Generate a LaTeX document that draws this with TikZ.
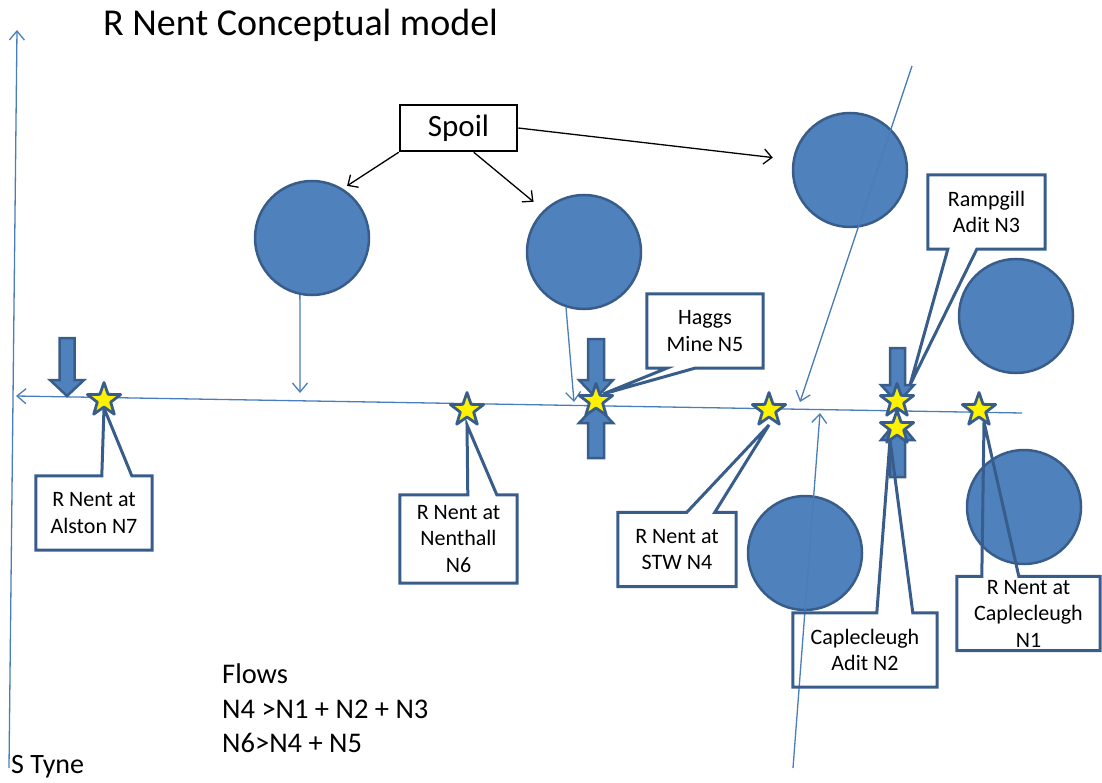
\documentclass[tikz,border=0pt]{standalone}
\usepackage{fontspec}
\setmainfont{Carlito}
\usetikzlibrary{shapes.geometric,arrows.meta}

\definecolor{pondfill}{HTML}{4F81BD}
\definecolor{pondline}{HTML}{385D8A}
\definecolor{flowline}{HTML}{4A7EBB}

\tikzset{
    pond/.style={circle, fill=pondfill, draw=pondline, line width=2.5pt, minimum size=114pt, inner sep=0pt},
    site/.style={star, star points=5, star point ratio=2.5, minimum size=35pt, inner sep=0pt,
        fill=yellow, draw=pondline, line width=2.8pt, line join=round},
    pipe/.style={fill=pondfill, draw=pondline, line width=2.5pt},
    flow/.style={draw=flowline, line width=1.3pt, -{Straight Barb[length=9pt,width=15pt]}},
    spoilarrow/.style={black, line width=1.3pt, -{Straight Barb[length=8pt,width=15pt]}},
    notebox/.style={rectangle, minimum height=74pt, inner sep=0pt, align=center,
        font=\fontsize{22}{26.5}\selectfont},
    callbox/.style={draw=pondline, line width=3pt, line join=miter},
    plain/.style={anchor=base west, inner sep=0pt}
}

\begin{document}
\begin{tikzpicture}[x=1pt, y=-1pt]
    \useasboundingbox (0,0) rectangle (1102,783);

    % sampling points
    \coordinate (n7) at (104,400);
    \coordinate (n6) at (467,410);
    \coordinate (n5) at (596,401);
    \coordinate (n4) at (769,410);
    \coordinate (n3) at (897,401);
    \coordinate (n2) at (897,428);
    \coordinate (n1) at (979,410);

    % S Tyne and R Nent
    \coordinate (tyneS) at (9,768);
    \coordinate (tyneN) at (17,30);
    \draw[flow] (tyneS) -- (tyneN);
    \coordinate (nentE) at (1022,413);
    \coordinate (nentW) at (16,396);
    \draw[flow] (nentE) -- (nentW);

    % spoil heaps
    \node[pond] (p1) at (312,238) {};
    \node[pond] (p2) at (584,252) {};
    \node[pond] (p3) at (850,170) {};
    \node[pond] (p4) at (1016,316) {};
    \node[pond] (p5) at (805,553) {};
    \node[pond] (p6) at (1024,507) {};

    % runoff into the river
    \coordinate (r1) at (300,393);
    \coordinate (r2) at (574,402);
    \coordinate (r3top) at (912,66);
    \coordinate (r3) at (800,402);
    \coordinate (r4bot) at (793,768);
    \coordinate (r4) at (820,413);
    \draw[flow] (p1.-102) -- (r1);
    \draw[flow] (p2.-108) -- (r2);
    \draw[flow] (r3top) -- (r3);
    \draw[flow] (r4bot) -- (r4);

    \node[draw, line width=2.5pt, minimum width=117pt, minimum height=46pt, inner sep=0pt,
        font=\fontsize{31}{37}\selectfont] (spoil) at (458.5,128) {Spoil};
    \draw[spoilarrow, shorten >=5pt] (spoil.south west) -- (p1.58);
    \draw[spoilarrow, shorten >=13pt] ([xshift=75pt]spoil.south west) -- (p2.134);
    \draw[spoilarrow, shorten >=20pt] (spoil.east) -- (p3.170);

    % adit inflows
    \draw[pipe] (59.5,338) -- (74.5,338) -- (74.5,380) -- (84,380) -- (67,396) -- (50,380) -- (59.5,380) -- cycle;
    \draw[pipe] (588,339) -- (604,339) -- (604,380) -- (613,380) -- (596,398) -- (579,380) -- (588,380) -- cycle;
    \draw[pipe] (588,458) -- (604,458) -- (604,423) -- (613,423) -- (596,405) -- (579,423) -- (588,423) -- cycle;
    \draw[pipe] (890,348) -- (905,348) -- (905,385) -- (914,385) -- (897.5,403) -- (881,385) -- (890,385) -- cycle;
    \draw[pipe] (890,477) -- (905,477) -- (905,440) -- (914,440) -- (897.5,420) -- (881,440) -- (890,440) -- cycle;

    % labels
    \node[notebox, minimum width=116pt] (l7) at (94,513) {R Nent at\\Alston N7};
    \node[notebox, minimum width=117pt, minimum height=88pt] (l6) at (458.5,539) {R Nent at\\Nenthall\\N6};
    \node[notebox, minimum width=116pt] (l5) at (705,331) {Haggs\\Mine N5};
    \node[notebox, minimum width=118pt] (l4) at (677,549.5) {R Nent at\\STW N4};
    \node[notebox, minimum width=117pt] (l3) at (986.5,212) {Rampgill\\Adit N3};
    \node[notebox, minimum width=144pt] (l2) at (865,650) {Caplecleugh\\Adit N2};
    \node[notebox, minimum width=143pt] (l1) at (1028.5,613.5) {R Nent at\\Caplecleugh\\N1};

    \draw[callbox] (l7.south west) -- (l7.north west) -- ([xshift=66pt]l7.north west)
        -- ([yshift=-8pt]n7) -- ([xshift=96pt]l7.north west) -- (l7.north east) -- (l7.south east) -- cycle;
    \draw[callbox] (l6.south west) -- (l6.north west) -- ([xshift=68pt]l6.north west)
        -- ([yshift=-15pt]n6) -- ([xshift=97pt]l6.north west) -- (l6.north east) -- (l6.south east) -- cycle;
    \draw[callbox] (l5.north west) -- (l5.north east) -- (l5.south east) -- ([xshift=48pt]l5.south west)
        -- ([xshift=7pt,yshift=7pt]n5) -- ([xshift=20pt]l5.south west) -- (l5.south west) -- cycle;
    \draw[callbox] (l4.south west) -- (l4.north west) -- ([xshift=69pt]l4.north west)
        -- ([yshift=-15pt]n4) -- ([xshift=97pt]l4.north west) -- (l4.north east) -- (l4.south east) -- cycle;
    \draw[callbox] (l3.north west) -- (l3.north east) -- (l3.south east) -- ([xshift=49pt]l3.south west)
        -- ([xshift=13pt,yshift=16pt]n3) -- ([xshift=20pt]l3.south west) -- (l3.south west) -- cycle;
    \draw[callbox] (l2.south west) -- (l2.north west) -- ([xshift=84pt]l2.north west)
        -- ([xshift=-7pt,yshift=-12pt]n2) -- ([xshift=120pt]l2.north west) -- (l2.north east) -- (l2.south east) -- cycle;
    \draw[callbox] (l1.south west) -- (l1.north west) -- ([xshift=25pt]l1.north west)
        -- ([xshift=5pt,yshift=-12pt]n1) -- ([xshift=62pt]l1.north west) -- (l1.north east) -- (l1.south east) -- cycle;

    % stars on top
    \node[site] (s7) at (n7) {};
    \node[site] (s6) at (n6) {};
    \node[site] (s5) at (n5) {};
    \node[site] (s4) at (n4) {};
    \node[site] (s3) at (n3) {};
    \node[site] (s2) at (n2) {};
    \node[site] (s1) at (n1) {};

    % text
    \node[plain, font=\fontsize{38}{45}\selectfont] (title) at (103,36) {R Nent Conceptual model};
    \node[plain, font=\fontsize{28}{34}\selectfont] (tyne) at (11,773) {S Tyne};
    \node[plain, font=\fontsize{28.5}{35}\selectfont] (flows) at (222,683) {Flows};
    \node[plain, font=\fontsize{28.5}{35}\selectfont] (flowa) at (222,718) {N4 >N1 + N2 + N3};
    \node[plain, font=\fontsize{28.5}{35}\selectfont] (flowb) at (222,752) {N6>N4 + N5};

\end{tikzpicture}
\end{document}
